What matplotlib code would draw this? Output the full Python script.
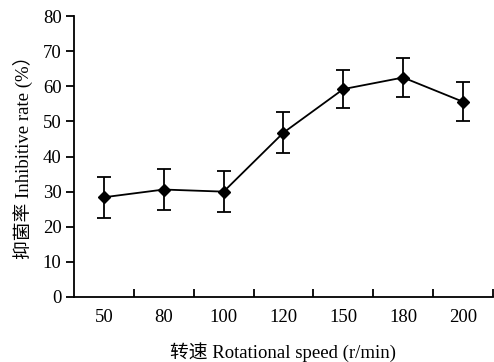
import matplotlib
matplotlib.use("Agg")
import matplotlib.pyplot as plt
import numpy as np

categories = ["50", "80", "100", "120", "150", "180", "200"]
values = [28.4, 30.6, 30.0, 46.8, 59.2, 62.5, 55.6]
errors = [5.8, 5.8, 5.8, 5.8, 5.5, 5.5, 5.5]
yticks = [0, 10, 20, 30, 40, 50, 60, 70, 80]

plt.rcParams['font.family'] = ['Liberation Serif', 'Noto Sans CJK SC']
plt.rcParams['font.size'] = 13.5

fig = plt.figure(figsize=(4.94, 3.62), dpi=100)
ax = fig.add_axes([0.1498, 0.1796, 0.848, 0.776])

x = np.arange(len(categories)) + 0.5
ax.errorbar(x, values, yerr=errors, color='black', linewidth=1.3,
            marker='D', markersize=6, capsize=5, capthick=1.3, elinewidth=1.3)

ax.set_xlim(0, len(categories))
ax.set_ylim(0, 80)
ax.set_yticks(yticks)
ax.set_xticks(np.arange(1, len(categories) + 1))
ax.set_xticklabels([])
ax.set_xticks(x, minor=True)
ax.set_xticklabels(categories, minor=True)
ax.tick_params(axis='x', which='major', direction='in', length=6, width=1.3)
ax.tick_params(axis='x', which='minor', length=0, pad=9)
ax.tick_params(axis='y', direction='out', length=6, width=1.3, pad=3)

for s in ['top', 'right']:
    ax.spines[s].set_visible(False)
for s in ['left', 'bottom']:
    ax.spines[s].set_linewidth(1.3)

ax.set_xlabel('转速 Rotational speed (r/min)', fontsize=13.5, labelpad=11)
ax.set_ylabel('抑菌率 Inhibitive rate (%）', fontsize=13.5)
ax.yaxis.set_label_coords(-0.098, 0.512)

fig.savefig('out.png', dpi=100)
